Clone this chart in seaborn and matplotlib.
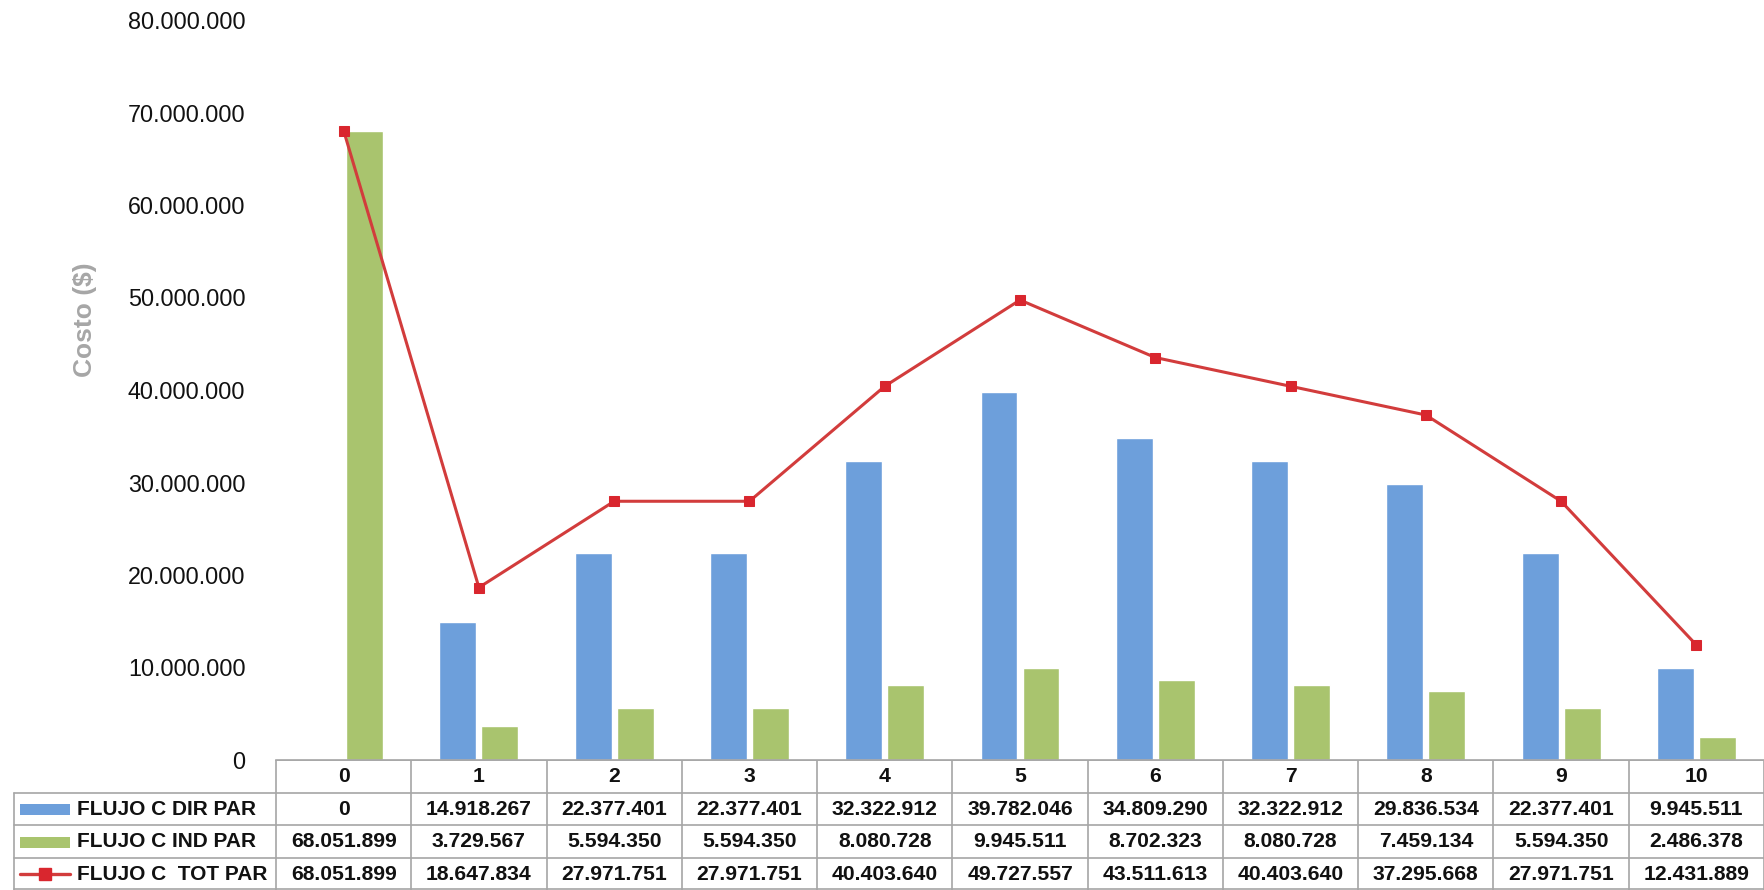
import matplotlib
matplotlib.use("Agg")
import matplotlib.pyplot as plt
import seaborn as sns
import pandas as pd
from matplotlib.patches import Rectangle

periods = ["0", "1", "2", "3", "4", "5", "6", "7", "8", "9", "10"]
dir_par = [0, 14918267, 22377401, 22377401, 32322912, 39782046, 34809290, 32322912, 29836534, 22377401, 9945511]
ind_par = [68051899, 3729567, 5594350, 5594350, 8080728, 9945511, 8702323, 8080728, 7459134, 5594350, 2486378]
tot_par = [68051899, 18647834, 27971751, 27971751, 40403640, 49727557, 43511613, 40403640, 37295668, 27971751, 12431889]
series_names = ["FLUJO C DIR PAR", "FLUJO C IND PAR", "FLUJO C  TOT PAR"]
y_ticks = [0, 10000000, 20000000, 30000000, 40000000, 50000000, 60000000, 70000000, 80000000]

C_BLUE = "#6d9fdb"
C_GREEN = "#a9c46e"
C_RED = "#d23c3c"
C_MARK = "#d9262e"
GRID = "#a6a6a6"


def fmt(v):
    return f"{int(v):,}".replace(",", ".")


sns.set_theme(style="white")
plt.rcParams["font.family"] = ["Liberation Sans", "DejaVu Sans"]

W, H = 1764, 890
fig = plt.figure(figsize=(W / 100, H / 100), dpi=100)
ax_left = 276 / W
ax_bottom = 130 / H
ax_top = (H - 20) / H
ax = fig.add_axes([ax_left, ax_bottom, 1 - ax_left, ax_top - ax_bottom])

df = pd.DataFrame({
    "period": periods * 2,
    "value": dir_par + ind_par,
    "serie": [series_names[0]] * len(periods) + [series_names[1]] * len(periods),
})
sns.barplot(data=df, x="period", y="value", hue="serie", order=periods,
            palette=[C_BLUE, C_GREEN], width=0.62, gap=0.12, ax=ax,
            legend=False, saturation=1)

xs = list(range(len(periods)))
sns.lineplot(x=xs, y=tot_par, ax=ax, color=C_RED, linewidth=2.2,
             marker="s", markersize=7, markerfacecolor=C_MARK,
             markeredgecolor=C_MARK, legend=False)

ax.set_xlim(-0.5, len(periods) - 0.5)
ax.set_ylim(0, 80000000)
ax.set_yticks(y_ticks)
ax.set_yticklabels([fmt(t) for t in y_ticks], fontsize=16.8, color="#111111")
ax.tick_params(axis="y", length=0, pad=22)
ax.set_xticks([])
ax.set_xlabel("")
ax.set_ylabel("")
for s in ["top", "right", "left"]:
    ax.spines[s].set_visible(False)
ax.spines["bottom"].set_color(GRID)
ax.spines["bottom"].set_linewidth(1.2)

fig.text(85 / W, 1 - 320 / H, "Costo ($)", rotation=90, ha="center",
         va="center", fontsize=19, fontweight="bold", color="#a6a6a6")

# data table
col_w = (W - 276) / len(periods)
x_left_edge = -0.5 - 276 / col_w
tab = fig.add_axes([0, 0, 1, ax_bottom])
tab.set_xlim(x_left_edge, len(periods) - 0.5)
tab.set_ylim(4, 0)
tab.axis("off")


def ux(px):
    return (px - 276) / col_w - 0.5


lbl_left = ux(14)
lw = 1.2
tab.plot([-0.5, len(periods) - 0.5], [0, 0], color=GRID, lw=lw)
for r in [1, 2, 3]:
    tab.plot([lbl_left, len(periods) - 0.5], [r, r], color=GRID, lw=lw)
tab.plot([lbl_left, len(periods) - 0.5], [3.98, 3.98], color=GRID, lw=lw)
for k in range(len(periods) + 1):
    tab.plot([k - 0.5, k - 0.5], [0, 4], color=GRID, lw=lw)
tab.plot([lbl_left, lbl_left], [1, 4], color=GRID, lw=lw)

for i, p in enumerate(periods):
    tab.text(i, 0.52, p, ha="center", va="center", fontsize=15.2, fontweight="bold", color="#111111")
    for r, vals in enumerate([dir_par, ind_par, tot_par]):
        tab.text(i, r + 1.52, fmt(vals[i]), ha="center", va="center",
                 fontsize=15.2, fontweight="bold", color="#111111")

sw_l, sw_r = ux(20), ux(70)
tab.add_patch(Rectangle((sw_l, 1.36), sw_r - sw_l, 0.34, color=C_BLUE, lw=0))
tab.add_patch(Rectangle((sw_l, 2.36), sw_r - sw_l, 0.34, color=C_GREEN, lw=0))
tab.plot([sw_l, sw_r], [3.52, 3.52], color=C_RED, lw=2.4)
tab.plot([(sw_l + sw_r) / 2], [3.52], marker="s", markersize=9, color=C_MARK)
for r, name in enumerate(series_names):
    tab.text(ux(77), r + 1.52, name, ha="left", va="center", fontsize=15.0,
             fontweight="bold", color="#111111")

fig.savefig("out.png", dpi=100)
